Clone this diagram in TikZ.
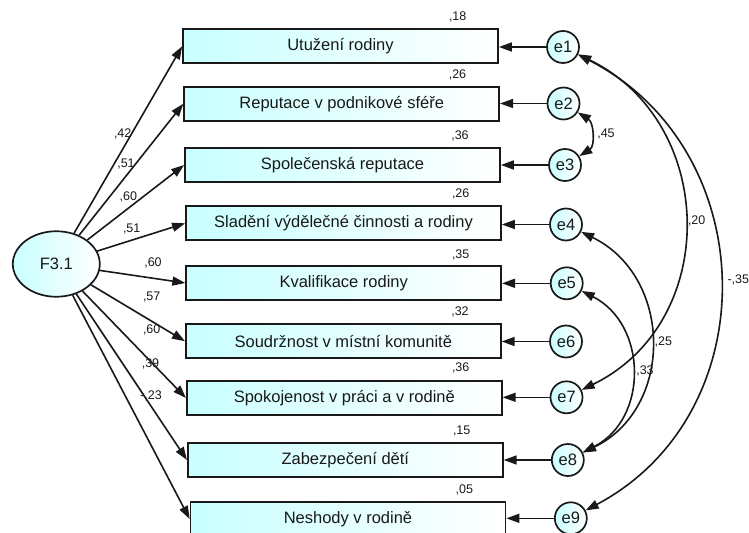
\documentclass[tikz,border=0pt]{standalone}
\usepackage{fontspec}
\setmainfont{Liberation Sans}
\usetikzlibrary{arrows.meta,shapes.geometric}
\definecolor{lcyan}{RGB}{200,255,255}
\definecolor{ink}{RGB}{25,25,25}
\tikzset{
  obs/.style={draw=ink, line width=1.7bp, minimum width=315bp, minimum height=34bp,
    inner sep=0pt, left color=lcyan, right color=white, text=ink,
    font=\fontsize{16.5bp}{18bp}\selectfont},
  err/.style={circle, draw=ink, line width=1.7bp, minimum size=32bp, inner sep=0pt,
    left color=lcyan, right color=white, text=ink,
    font=\fontsize{16.5bp}{18bp}\selectfont},
  lat/.style={ellipse, draw=ink, line width=1.7bp, minimum width=87bp, minimum height=65.5bp,
    inner sep=0pt, left color=lcyan, right color=white, text=ink,
    font=\fontsize{16.5bp}{18bp}\selectfont},
  arr/.style={draw=ink, line width=1.6bp, -{Triangle[length=13bp,width=9bp]}},
  cov/.style={draw=ink, line width=1.6bp, {Triangle[length=13bp,width=9bp]}-{Triangle[length=13bp,width=9bp]}},
  lab/.style={inner sep=0pt, text=ink, font=\fontsize{12.5bp}{14bp}\selectfont}
}
\begin{document}
\begin{tikzpicture}[x=1bp,y=-1bp]
\useasboundingbox (0,0) rectangle (749,533);
\clip (0,0) rectangle (749,533);

% latent factor
\node[lat] (F) at (56.3,264) {F3.1};

% observed variables
\node[obs] (b1) at (340.5,46.3) {Utužení rodiny};
\node[obs] (b2) at (341.7,103.7) {Reputace v podnikové sféře};
\node[obs] (b3) at (342.5,165) {Společenská reputace};
\node[obs] (b4) at (343.5,223.3) {Sladění výdělečné činnosti a rodiny};
\node[obs] (b5) at (343.7,283) {Kvalifikace rodiny};
\node[obs] (b6) at (343.3,341.2) {Soudržnost v místní komunitě};
\node[obs] (b7) at (344.3,398) {Spokojenost v práci a v rodině};
\node[obs] (b8) at (345.3,460) {Zabezpečení dětí};
\node[obs] (b9) at (348,519) {Neshody v rodině};

% error terms
\node[err] (e1) at (563,47) {e1};
\node[err] (e2) at (563.5,103.5) {e2};
\node[err] (e3) at (565,165) {e3};
\node[err] (e4) at (566,224.5) {e4};
\node[err] (e5) at (566.7,283.3) {e5};
\node[err] (e6) at (566,341.5) {e6};
\node[err] (e7) at (566.5,397.3) {e7};
\node[err] (e8) at (567.8,460) {e8};
\node[err] (e9) at (570.8,518.3) {e9};

% loadings and error paths
\foreach \i in {1,...,9} {
  \draw[arr] (F) -- (b\i.west);
  \draw[arr] (e\i) -- (e\i -| b\i.east);
}

% covariances
\draw[cov] (e1) to[out=-27,in=28,looseness=1.16] (e9);
\draw[cov] (e1) to[out=-26,in=26,looseness=1.18] (e7);
\draw[cov] (e2) to[out=-32,in=32,looseness=1.11] (e3);
\draw[cov] (e4) to[out=-26,in=26,looseness=1.18] (e8);
\draw[cov] (e5) to[out=-27,in=27,looseness=1.17] (e8);

% squared multiple correlations
\node[lab] (r1) at (457.7,16.7) {,18};
\node[lab] (r2) at (457.5,75) {,26};
\node[lab] (r3) at (460,136) {,36};
\node[lab] (r4) at (460.7,194) {,26};
\node[lab] (r5) at (460.7,255) {,35};
\node[lab] (r6) at (460,311.7) {,32};
\node[lab] (r7) at (460.7,368.3) {,36};
\node[lab] (r8) at (461.7,430.7) {,15};
\node[lab] (r9) at (464.3,490) {,05};

% loading labels
\node[lab] (w1) at (122.7,134) {,42};
\node[lab] (w2) at (126,164) {,51};
\node[lab] (w3) at (128.3,196.7) {,60};
\node[lab] (w4) at (131.7,229.3) {,51};
\node[lab] (w5) at (153,263.3) {,60};
\node[lab] (w6) at (151.7,297.3) {,57};
\node[lab] (w7) at (151.7,330) {,60};
\node[lab] (w8) at (150.5,364.3) {,39};
\node[lab] (w9) at (151,396) {-,23};

% covariance labels
\node[lab] (c23) at (606,134) {,45};
\node[lab] (c17) at (696.7,220.7) {,20};
\node[lab] (c19) at (738.3,280) {-,35};
\node[lab] (c48) at (663.3,341.7) {,25};
\node[lab] (c58) at (645,371) {,33};
\end{tikzpicture}
\end{document}
